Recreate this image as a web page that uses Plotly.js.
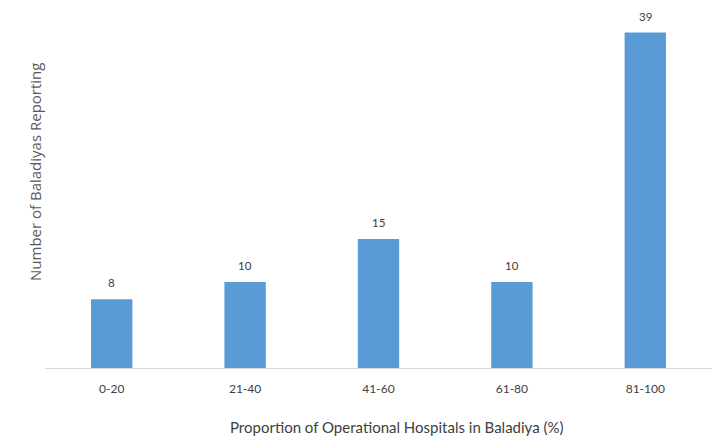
<!DOCTYPE html>
<html>
<head>
<meta charset="utf-8">
<script src="https://cdn.plot.ly/plotly-3.0.1.min.js"></script>
<style>
  html, body { margin: 0; padding: 0; background: #ffffff; }
  #chart { width: 723px; height: 437px; }
</style>
</head>
<body>
<div id="chart"></div>
<script>
// Share of operational hospitals per baladiya, binned
const categories = ["0-20", "21-40", "41-60", "61-80", "81-100"];
const counts = [8, 10, 15, 10, 39];

const barColor = "#5b9bd5";
const textColor = "#404040";

const trace = {
  type: "bar",
  x: categories,
  y: counts,
  marker: { color: barColor },
  hoverinfo: "x+y"
};

// value labels sit a little above each bar
const valueLabels = categories.map((c, i) => ({
  x: c,
  y: counts[i],
  xref: "x",
  yref: "y",
  text: String(counts[i]),
  showarrow: false,
  yanchor: "bottom",
  yshift: 8,
  font: { family: "Lato, 'DejaVu Sans', sans-serif", size: 11.5, color: textColor }
}));

const layout = {
  width: 723,
  height: 437,
  margin: { l: 45, r: 11, t: 24, b: 69 },
  paper_bgcolor: "#ffffff",
  plot_bgcolor: "#ffffff",
  showlegend: false,
  bargap: 0.69,
  xaxis: {
    type: "category",
    showline: true,
    linecolor: "#d9d9d9",
    linewidth: 1,
    showgrid: false,
    zeroline: false,
    ticks: "",
    ticklabelstandoff: 10,
    tickfont: { family: "Lato, 'DejaVu Sans', sans-serif", size: 12, color: textColor }
  },
  yaxis: {
    range: [0, 40],
    showticklabels: false,
    showgrid: false,
    zeroline: false,
    showline: false,
    ticks: ""
  },
  annotations: valueLabels.concat([
    {
      text: "Proportion of Operational Hospitals in Baladiya (%)",
      xref: "paper", yref: "paper",
      x: (397 - 45) / 667, y: 0,
      xanchor: "center", yanchor: "middle",
      yshift: -59,
      showarrow: false,
      font: { family: "Lato, 'DejaVu Sans', sans-serif", size: 15, color: textColor }
    },
    {
      text: "Number of Baladiyas Reporting",
      xref: "paper", yref: "paper",
      x: 0, y: (368 - 172) / 344,
      xanchor: "center", yanchor: "middle",
      xshift: -10,
      textangle: -90,
      showarrow: false,
      font: { family: "'Open Sans', 'DejaVu Sans', sans-serif", size: 15, color: "#595959" }
    }
  ])
};

Plotly.newPlot("chart", [trace], layout, { displayModeBar: false, staticPlot: true });
</script>
</body>
</html>
